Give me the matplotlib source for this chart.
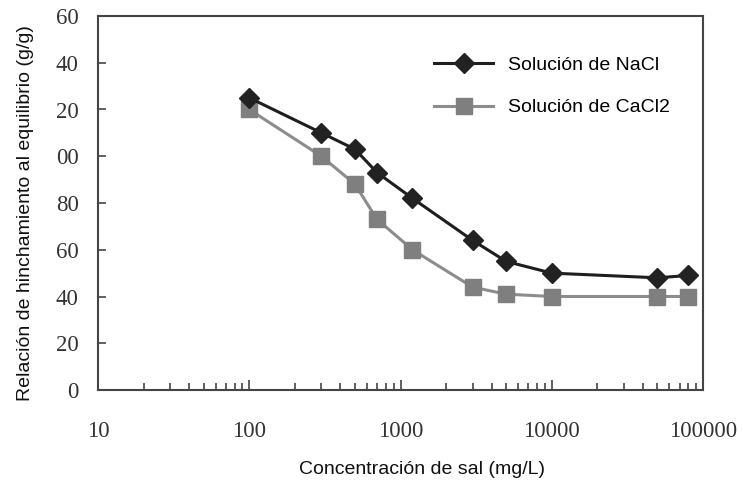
import matplotlib.pyplot as plt
from matplotlib.ticker import FixedLocator, LogLocator, NullFormatter

# concentracion de sal (mg/L)
conc = [100, 300, 500, 700, 1200, 3000, 5000, 10000, 50000, 80000]
# relacion de hinchamiento (g/g)
nacl = [125, 110, 103, 93, 82, 64, 55, 50, 48, 49]
cacl2 = [120, 100, 88, 73, 60, 44, 41, 40, 40, 40]

y_ticks = [0, 20, 40, 60, 80, 100, 120, 140, 160]
y_labels = ['0', '20', '40', '60', '80', '00', '20', '40', '60']
x_ticks = [10, 100, 1000, 10000, 100000]
x_labels = ['10', '100', '1000', '10000', '100000']

fig = plt.figure(figsize=(7.43, 4.86), dpi=100)
ax = fig.add_axes([98 / 743, 96 / 486, 605 / 743, 374 / 486])

ax.plot(conc, cacl2, color='#8c8c8c', lw=2.2, marker='s', ms=12,
        mfc='#7f7f7f', mec='#7f7f7f', label='Solución de CaCl2', zorder=2)
ax.plot(conc, nacl, color='#1e1e1e', lw=2.2, marker='D', ms=10,
        mfc='#222222', mec='#222222', label='Solución de NaCl', zorder=3)

ax.set_xscale('log')
ax.set_xlim(10, 100000)
ax.set_ylim(0, 160)

ax.xaxis.set_major_locator(FixedLocator(x_ticks))
ax.set_xticklabels(x_labels)
ax.xaxis.set_minor_locator(LogLocator(base=10, subs=range(2, 10)))
ax.xaxis.set_minor_formatter(NullFormatter())
ax.set_yticks(y_ticks)
ax.set_yticklabels(y_labels)

serif = 'Liberation Serif'
for lab in ax.get_xticklabels() + ax.get_yticklabels():
    lab.set_fontfamily(serif)
    lab.set_fontsize(16.5)
    lab.set_color('#333333')

ax.tick_params(axis='x', which='major', direction='in', length=7, width=1.2,
               pad=22, color='#444444', top=False)
ax.tick_params(axis='x', which='minor', direction='in', length=5, width=1.2,
               color='#444444', top=False)
ax.tick_params(axis='y', which='major', direction='in', length=6, width=1.2,
               pad=14, color='#444444', right=False)
# las marcas del eje y no salen en la primera ni la ultima linea
ax.yaxis.get_major_ticks()[0].tick1line.set_visible(False)
ax.yaxis.get_major_ticks()[-1].tick1line.set_visible(False)

for s in ax.spines.values():
    s.set_color('#444444')
    s.set_linewidth(1.5)

ax.set_xlabel('Concentración de sal (mg/L)', fontsize=14,
              fontfamily='Liberation Sans', color='#111111')
ax.xaxis.set_label_coords(0.535, -0.19)
ax.set_ylabel('Relación de hinchamiento al equilibrio (g/g)', fontsize=14,
              fontfamily='Liberation Sans', color='#111111')
ax.yaxis.set_label_coords(-0.105, 0.472)

handles, labels = ax.get_legend_handles_labels()
leg = ax.legend(handles[::-1], labels[::-1], frameon=False,
                prop={'family': 'Liberation Sans', 'size': 14},
                loc='upper left', bbox_to_anchor=(0.527, 0.94),
                handlelength=3.0, handletextpad=0.8, labelspacing=1.3)

fig.savefig('out.png', dpi=100)
